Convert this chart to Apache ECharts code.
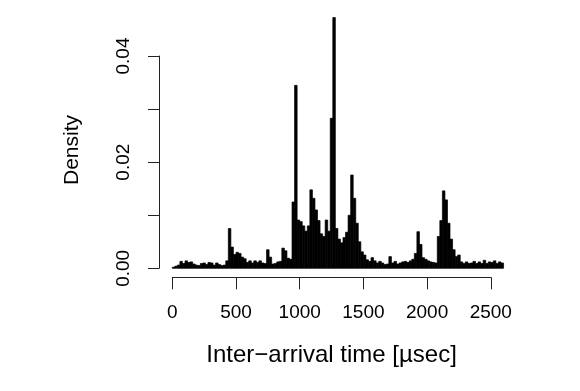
<!DOCTYPE html>
<html>
<head>
<meta charset="utf-8">
<script src="https://cdn.jsdelivr.net/npm/echarts@6/dist/echarts.min.js"></script>
<style>html,body{margin:0;padding:0;background:#fff;}#chart{width:580px;height:391px;}</style>
</head>
<body>
<div id="chart"></div>
<script>
// Histogram: bin width 20 µsec, bins from 0 to 2600
const binWidth = 20;
const binStart = 0;
const densities = [
  0.0002,0.0004,0.0006,0.0013,0.0009,0.0014,0.0011,0.0012,0.0008,0.0006,
  0.0005,0.0009,0.0010,0.0007,0.0011,0.0010,0.0006,0.0010,0.0007,0.0005,
  0.0006,0.0014,
  0.0075,0.0040,0.0026,0.0030,0.0028,0.0021,0.0018,0.0011,
  0.0014,0.0010,0.0014,0.0011,0.0014,0.0010,0.0009,0.0035,0.0021,0.0008,
  0.0009,0.0012,0.0013,0.0038,0.0033,0.0019,0.0017,0.0125,0.0345,
  0.0091,0.0088,0.0080,0.0070,0.0080,0.0148,0.0132,0.0110,0.0090,0.0065,
  0.0060,0.0091,0.0070,0.0283,0.0473,
  0.0075,0.0055,0.0048,0.0058,0.0068,0.0100,0.0176,0.0132,0.0085,0.0050,
  0.0031,0.0025,0.0016,0.0013,0.0020,0.0014,0.0010,0.0013,0.0010,0.0007,
  0.0008,0.0022,0.0010,0.0013,0.0008,
  0.0010,0.0012,0.0013,0.0011,0.0014,0.0017,0.0028,0.0069,0.0045,0.0020,
  0.0017,0.0014,0.0012,0.0011,0.0010,0.0060,0.0090,0.0146,0.0129,0.0085,
  0.0055,0.0035,0.0022,0.0025,
  0.0012,0.0009,0.0012,0.0009,0.0010,0.0013,0.0009,0.0012,0.0009,0.0015,
  0.0009,0.0012,0.0011,0.0014,0.0009,0.0012,0.0010
];
const xTicks = [0, 500, 1000, 1500, 2000, 2500];
const xLabels = ['0', '500', '1000', '1500', '2000', '2500'];
const yTicks = [0, 0.01, 0.02, 0.03, 0.04];
const yLabels = ['0.00', '', '0.02', '', '0.04'];
const xTitle = 'Inter\u2212arrival time [\u00b5sec]';
const yTitle = 'Density';

const bins = densities.map((d, i) => [binStart + i * binWidth, binStart + (i + 1) * binWidth, d]);
const xLo = binStart, xHi = binStart + densities.length * binWidth;
const yHi = Math.max(...densities);
const xPad = (xHi - xLo) * 0.04, yPad = yHi * 0.04;

function pick(ticks, labels) {
  return function (v) { const i = ticks.findIndex(t => Math.abs(t - v) < 1e-9); return i >= 0 ? labels[i] : ''; };
}

const FONT = 'Liberation Sans, Arial, Helvetica, sans-serif';
const AX = '#222';
const chart = echarts.init(document.getElementById('chart'), null, {renderer: 'canvas'});
chart.setOption({
  animation: false,
  backgroundColor: '#fff',
  grid: [
    {left: 159, right: 63.2, top: 7.5, bottom: 112.7},
    {left: 172.3, right: 89.2, top: 200, bottom: 113.7},
    {left: 159, width: 100, top: 56, bottom: 122.7}
  ],
  xAxis: [
    {gridIndex: 0, type: 'value', min: xLo - xPad, max: xHi + xPad, show: false},
    {gridIndex: 1, type: 'value', min: xTicks[0], max: xTicks[xTicks.length - 1], interval: xTicks[1] - xTicks[0],
     position: 'bottom',
     axisLine: {show: true, lineStyle: {color: AX, width: 1}},
     axisTick: {show: true, inside: false, length: 12, lineStyle: {color: AX, width: 1}},
     axisLabel: {show: true, margin: 26, fontFamily: FONT, fontSize: 19, color: '#000', formatter: pick(xTicks, xLabels)},
     splitLine: {show: false},
     name: xTitle, nameLocation: 'middle', nameGap: 66,
     nameTextStyle: {fontFamily: FONT, fontSize: 24, color: '#000'}},
    {gridIndex: 2, type: 'value', show: false}
  ],
  yAxis: [
    {gridIndex: 0, type: 'value', min: -yPad, max: yHi + yPad, show: false},
    {gridIndex: 1, type: 'value', show: false},
    {gridIndex: 2, type: 'value', min: yTicks[0], max: yTicks[yTicks.length - 1], interval: yTicks[1] - yTicks[0],
     position: 'left',
     axisLine: {show: true, lineStyle: {color: AX, width: 1}},
     axisTick: {show: true, inside: false, length: 11, lineStyle: {color: AX, width: 1}},
     axisLabel: {show: true, rotate: 90, margin: 26, fontFamily: FONT, fontSize: 19, color: '#000',
       formatter: pick(yTicks, yLabels)},
     splitLine: {show: false}}
  ],
  graphic: [{
    type: 'text', rotation: Math.PI / 2, x: 72, y: 150,
    style: {text: yTitle, font: '21px ' + FONT, fill: '#000', align: 'center', verticalAlign: 'middle'}
  }],
  series: [{
    type: 'custom',
    xAxisIndex: 0, yAxisIndex: 0,
    data: bins,
    encode: {x: [0, 1], y: 2},
    renderItem: function (params, api) {
      const p0 = api.coord([api.value(0), api.value(2)]);
      const p1 = api.coord([api.value(1), 0]);
      return {type: 'rect', shape: {x: p0[0], y: p0[1], width: p1[0] - p0[0], height: p1[1] - p0[1]},
              style: {fill: '#000', stroke: '#000', lineWidth: 0.7}};
    }
  }]
});
</script>
</body>
</html>
